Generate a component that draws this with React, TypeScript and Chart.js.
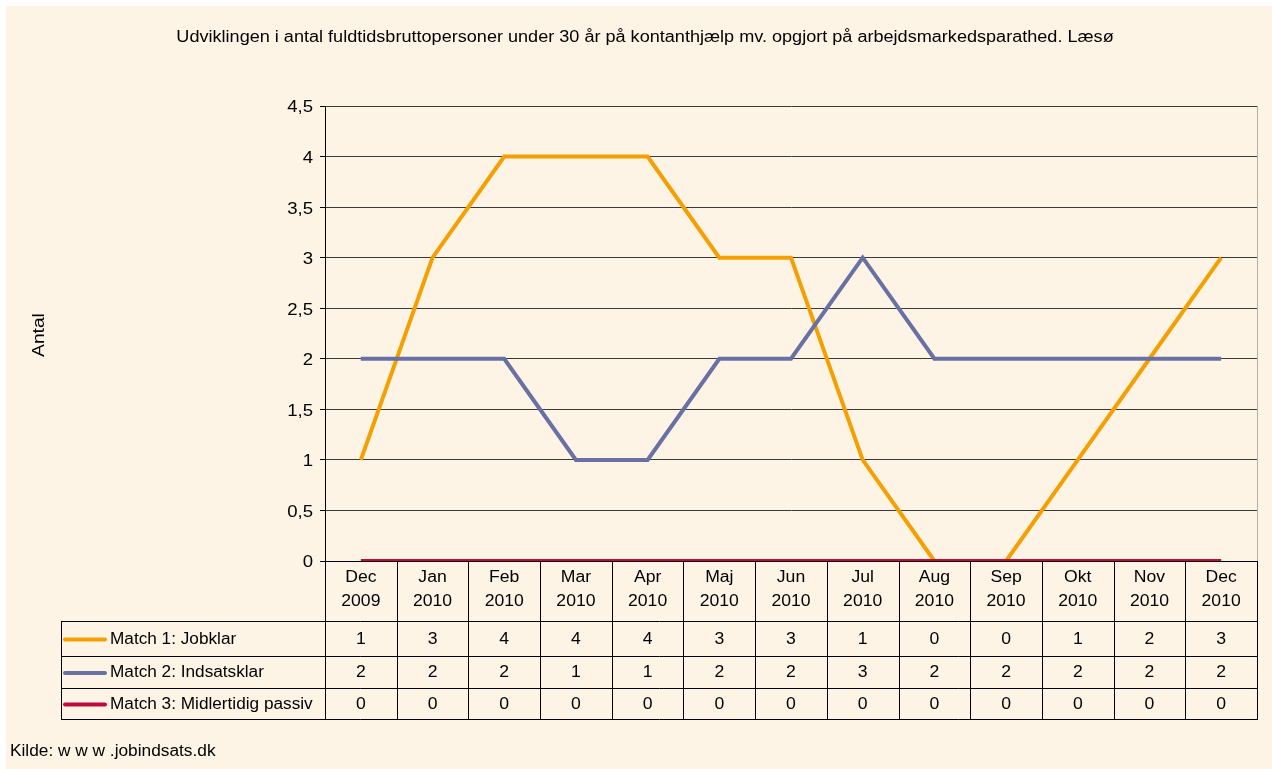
import React, { useEffect, useRef } from "react";
import { Chart, registerables } from "chart.js";
Chart.register(...registerables);

const TITLE =
  "Udviklingen i antal fuldtidsbruttopersoner under 30 år på kontanthjælp mv. opgjort på arbejdsmarkedsparathed. Læsø";
const Y_TITLE = "Antal";
const SOURCE = "Kilde: w w w .jobindsats.dk";
const MONTHS = ["Dec", "Jan", "Feb", "Mar", "Apr", "Maj", "Jun", "Jul", "Aug", "Sep", "Okt", "Nov", "Dec"];
const YEARS = ["2009", "2010", "2010", "2010", "2010", "2010", "2010", "2010", "2010", "2010", "2010", "2010", "2010"];
const SERIES_NAMES = ["Match 1: Jobklar", "Match 2: Indsatsklar", "Match 3: Midlertidig passiv"];
const JOBKLAR = [1, 3, 4, 4, 4, 3, 3, 1, 0, 0, 1, 2, 3];
const INDSATSKLAR = [2, 2, 2, 1, 1, 2, 2, 3, 2, 2, 2, 2, 2];
const PASSIV = [0, 0, 0, 0, 0, 0, 0, 0, 0, 0, 0, 0, 0];
const COLORS = ["#F5A000", "#6870A4", "#BE0A3C"];

const BG = "#FEF4E6";
const FONT = "Arial, 'Liberation Sans', sans-serif";

function txt(ctx: any, s: string, x: number, y: number, size: number, stretch: number, align: string, rot = 0) {
  ctx.save();
  ctx.font = `${size}px ${FONT}`;
  ctx.fillStyle = "#000";
  ctx.textBaseline = "middle";
  ctx.textAlign = align;
  ctx.translate(x, y);
  if (rot) ctx.rotate(rot);
  ctx.scale(stretch, 1);
  ctx.fillText(s, 0, 0);
  ctx.restore();
}

export default function App() {
  const ref = useRef<HTMLCanvasElement | null>(null);
  useEffect(() => {
    const canvas = ref.current!;
    const series = [JOBKLAR, INDSATSKLAR, PASSIV];
    const plugin = {
      id: "custom",
      beforeDraw(chart: any) {
        const ctx = chart.ctx;
        ctx.save();
        ctx.fillStyle = BG;
        ctx.fillRect(0, 0, chart.width, chart.height);
        ctx.restore();
      },
      afterDraw(chart: any) {
        const ctx = chart.ctx;
        const ca = chart.chartArea;
        const x = chart.scales.x;
        const y = chart.scales.y;
        ctx.save();
        // right border of plot
        ctx.strokeStyle = "#B0B0B0";
        ctx.lineWidth = 1;
        ctx.beginPath();
        ctx.moveTo(Math.round(ca.right) + 0.5, ca.top);
        ctx.lineTo(Math.round(ca.right) + 0.5, ca.bottom);
        ctx.stroke();

        // title, axis title, source
        txt(ctx, TITLE, 639, 32, 16, 1.13, "center");
        txt(ctx, Y_TITLE, 34, 329, 16, 1.2, "center", -Math.PI / 2);
        txt(ctx, SOURCE, 4, 746, 16, 1.08, "left");

        // y tick labels
        for (const t of y.ticks) {
          const py = y.getPixelForValue(t.value);
          txt(ctx, String(t.value).replace(".", ","), ca.left - 12, py + 2, 16, 1.16, "right");
        }

        // table
        const n = MONTHS.length;
        const w = (ca.right - ca.left) / n;
        const rowLines = [615, 650, 682, 713];
        const legendLeft = 55;
        ctx.strokeStyle = "#000";
        ctx.lineWidth = 1;
        ctx.beginPath();
        const yb = Math.round(ca.bottom) + 0.5;
        ctx.moveTo(ca.left, yb);
        ctx.lineTo(ca.right, yb);
        for (const ly of rowLines) {
          ctx.moveTo(legendLeft, ly + 0.5);
          ctx.lineTo(Math.round(ca.right) + 1, ly + 0.5);
        }
        for (let i = 0; i <= n; i++) {
          const xx = Math.round(ca.left + i * w) + 0.5;
          ctx.moveTo(xx, ca.bottom);
          ctx.lineTo(xx, rowLines[3] + 1);
        }
        ctx.moveTo(legendLeft + 0.5, rowLines[0]);
        ctx.lineTo(legendLeft + 0.5, rowLines[3] + 1);
        ctx.stroke();

        for (let i = 0; i < n; i++) {
          const cx = x.getPixelForValue(i);
          txt(ctx, MONTHS[i], cx, 572, 16, 1.1, "center");
          txt(ctx, YEARS[i], cx, 596, 16, 1.1, "center");
          for (let s = 0; s < series.length; s++) {
            const cy = (rowLines[s] + rowLines[s + 1]) / 2 + 1;
            txt(ctx, String(series[s][i]), cx, cy, 16, 1.1, "center");
          }
        }
        for (let s = 0; s < series.length; s++) {
          const cy = (rowLines[s] + rowLines[s + 1]) / 2 + 1;
          ctx.strokeStyle = COLORS[s];
          ctx.lineWidth = 4;
          ctx.lineCap = "round";
          ctx.beginPath();
          ctx.moveTo(59, cy);
          ctx.lineTo(99, cy);
          ctx.stroke();
          txt(ctx, SERIES_NAMES[s], 104, cy, 16, 1.075, "left");
        }
        ctx.restore();
      },
    };

    const chart = new Chart(canvas, {
      type: "line",
      data: {
        labels: MONTHS.map((m, i) => `${m} ${YEARS[i]}`),
        datasets: SERIES_NAMES.map((name, s) => ({
          label: name,
          data: series[s],
          borderColor: COLORS[s],
          backgroundColor: COLORS[s],
          borderWidth: 4,
          pointRadius: 0,
          tension: 0,
          order: 3 - s,
        })),
      },
      options: {
        animation: false,
        responsive: false,
        devicePixelRatio: 1,
        layout: { padding: { left: 259, top: 100, right: 15, bottom: 208 } },
        plugins: { legend: { display: false }, title: { display: false }, tooltip: { enabled: false } },
        scales: {
          x: { display: false, offset: true },
          y: {
            min: 0,
            max: 4.5,
            afterFit(scale: any) {
              scale.width = 60;
            },
            ticks: {
              stepSize: 0.5,
              color: "rgba(0,0,0,0)",
              font: { size: 15, family: FONT },
              padding: 6,
            },
            grid: { color: "#3A3A3A", lineWidth: 1, tickLength: 5, tickColor: "#000" },
            border: { display: true, color: "#000", width: 1 },
          },
        },
      },
      plugins: [plugin],
    } as any);
    return () => chart.destroy();
  }, []);

  return (
    <div style={{ position: "fixed", left: 6, top: 6, width: 1266, height: 763 }}>
      <canvas ref={ref} width={1266} height={763} style={{ width: 1266, height: 763, display: "block" }} />
    </div>
  );
}
